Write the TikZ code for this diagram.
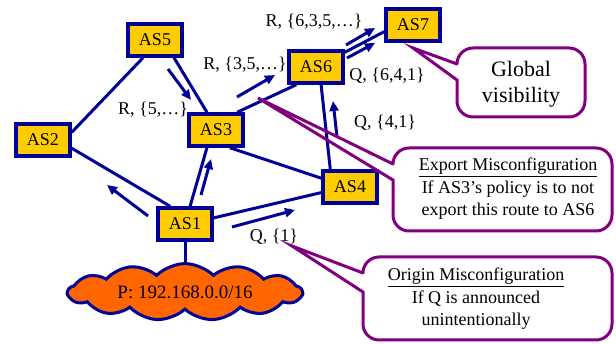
\documentclass[tikz,border=0pt]{standalone}
\usepackage{fontspec}
\setmainfont{Liberation Serif}
\usetikzlibrary{arrows.meta,shapes.symbols}

\definecolor{asblue}{RGB}{0,0,153}
\definecolor{asyellow}{RGB}{255,204,0}
\definecolor{netorange}{RGB}{255,102,0}
\definecolor{notepurple}{RGB}{128,0,128}

\begin{document}
\begin{tikzpicture}[x=1pt,y=-1pt,
    asbox/.style={draw=asblue,fill=asyellow,line width=3.5pt,minimum width=54pt,
      minimum height=32pt,inner sep=0pt,font=\fontsize{18}{21}\selectfont},
    link/.style={asblue,line width=3pt},
    route/.style={asblue,line width=3pt,-{Triangle[length=10pt,width=9pt]}},
    path label/.style={font=\fontsize{18}{21}\selectfont},
    note/.style={align=center,font=\fontsize{18}{22.5}\selectfont},
    bubble/.style={draw=notepurple,line width=3pt,line cap=round}]
  \useasboundingbox (0,0) rectangle (616,344);

  \node[asbox] (as5) at (155,40) {AS5};
  \node[asbox] (as2) at (43,140) {AS2};
  \node[asbox] (as3) at (216,130) {AS3};
  \node[asbox] (as6) at (316,67) {AS6};
  \node[asbox] (as7) at (413,25) {AS7};
  \node[asbox] (as4) at (350,187) {AS4};
  \node[asbox] (as1) at (185,224) {AS1};
  \node[cloud,cloud puffs=13,cloud puff arc=90,aspect=4.9,draw=asblue,
    fill=netorange,line width=3pt,minimum width=234pt,minimum height=40pt,
    inner sep=0pt,font=\fontsize{19}{22}\selectfont] (net) at (185,292)
    {P: 192.168.0.0/16};

  % links
  \draw[link] (as5.236) -- (as2.15);
  \draw[link] (as5.-43) -- (as3.117);
  \draw[link] (as2.-16) -- (as1.130);
  \draw[link] (as3.243) -- (as1.74);
  \draw[link] (as3.-52) -- (as4.163);
  \draw[link] (as3.40) -- (as6.222);
  \draw[link] (as1.12) -- (as4.191);
  \draw[link] (as6.-74) -- (as4.138);
  \draw[link] (as6.27) -- (as7.193);
  \draw[link] (as1) -- (net);

  % announcements
  \draw[route] (168,69) -- (191,100);
  \draw[route] (148,216) -- (107,185);
  \draw[route] (201,195) -- (211,159);
  \draw[route] (232,227) -- (295,210);
  \draw[route] (237,97) -- (275,75);
  \draw[route] (337,137) -- (333,101);
  \draw[route] (346,45) -- (375,28);
  \draw[route] (347,58) -- (375,43);

  \node[path label] (r7) at (314,22) {R, \{6,3,5,\ldots\}};
  \node[path label] (r6) at (245,65) {R, \{3,5,\ldots\}};
  \node[path label] (r3) at (153,110) {R, \{5,\ldots\}};
  \node[path label] (q7) at (387,76) {Q, \{6,4,1\}};
  \node[path label] (q6) at (385,123) {Q, \{4,1\}};
  \node[path label] (q4) at (274,237) {Q, \{1\}};

  % callouts
  \coordinate (glob tip) at (413,48);
  \draw[bubble] (457,64) -- (glob tip) -- (457,80) [rounded corners=16pt]
    |- (585,117) |- (457,48) -- (457,64);
  \node[note,font=\fontsize{22}{26}\selectfont] (glob) at (521,84) {Global\\visibility};

  \coordinate (export tip) at (258,98);
  \draw[bubble] (393,164) -- (export tip) -- (393,180) [rounded corners=16pt]
    |- (612,231) |- (393,148) -- (393,164);
  \node[note] (export) at (508,189)
    {\underline{Export Misconfiguration}\\If AS3’s policy is to not\\export this route to AS6};

  \coordinate (origin tip) at (292,246);
  \draw[bubble] (363,273) -- (origin tip) -- (363,292) [rounded corners=16pt]
    |- (612,340) |- (363,257) -- (363,273);
  \node[note] (origin) at (476,299)
    {\underline{Origin Misconfiguration}\\If Q is announced\\unintentionally};
\end{tikzpicture}
\end{document}
